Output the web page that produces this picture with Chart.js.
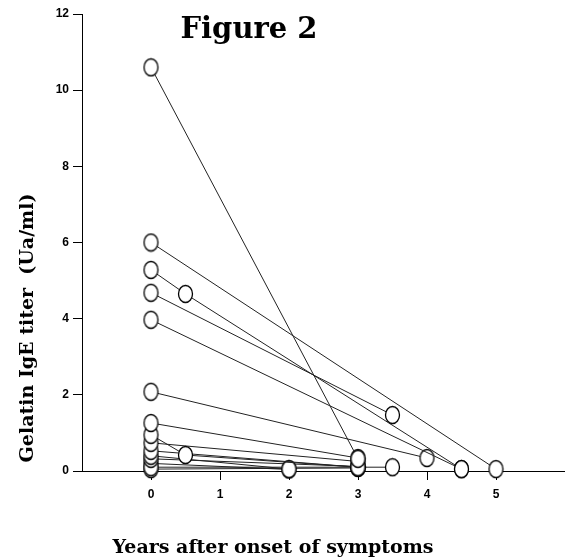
<!DOCTYPE html>
<html>
<head>
<meta charset="utf-8">
<script src="https://cdn.jsdelivr.net/npm/chart.js@4/dist/chart.umd.min.js"></script>
<style>
  html, body { margin: 0; padding: 0; background: #fff; }
  #wrap { width: 565px; height: 560px; }
</style>
</head>
<body>
<div id="wrap"><canvas id="c" width="565" height="560"></canvas></div>
<script>
// ---- data (years after onset, gelatin IgE titer Ua/ml) ----
const xTicks = [0, 1, 2, 3, 4, 5];
const yTicks = [0, 2, 4, 6, 8, 10, 12];

const p01Years = [0, 3];        const p01Titer = [10.6, 0.32];
const p02Years = [0, 5];        const p02Titer = [6.0, 0.05];
const p03Years = [0, 0.5, 4.5]; const p03Titer = [5.28, 4.65, 0.05];
const p04Years = [0, 3.5];      const p04Titer = [4.68, 1.47];
const p05Years = [0, 4.5];      const p05Titer = [3.97, 0.05];
const p06Years = [0, 4];        const p06Titer = [2.08, 0.34];
const p07Years = [0, 3];        const p07Titer = [1.26, 0.34];
const p08Years = [0, 0.5, 3];   const p08Titer = [0.95, 0.42, 0.10];
const p09Years = [0, 3];        const p09Titer = [0.74, 0.25];
const p10Years = [0, 3];        const p10Titer = [0.53, 0.10];
const p11Years = [0, 2];        const p11Titer = [0.40, 0.05];
const p12Years = [0, 3];        const p12Titer = [0.32, 0.12];
const p13Years = [0, 3, 3.5];   const p13Titer = [0.10, 0.10, 0.10];
const p14Years = [0, 2];        const p14Titer = [0.20, 0.04];
const p15Years = [0, 3];        const p15Titer = [0.05, 0.08];

const seriesList = [
  [p01Years, p01Titer], [p02Years, p02Titer], [p03Years, p03Titer],
  [p04Years, p04Titer], [p05Years, p05Titer], [p06Years, p06Titer],
  [p07Years, p07Titer], [p08Years, p08Titer], [p09Years, p09Titer],
  [p10Years, p10Titer], [p11Years, p11Titer], [p12Years, p12Titer],
  [p13Years, p13Titer], [p14Years, p14Titer], [p15Years, p15Titer]
];

// ---- elliptical open marker ----
const marker = document.createElement('canvas');
marker.width = 17; marker.height = 20;
(function () {
  const m = marker.getContext('2d');
  m.beginPath();
  m.ellipse(8.5, 10, 7, 8.5, 0, 0, Math.PI * 2);
  m.fillStyle = '#fff';
  m.fill();
  m.lineWidth = 1.3;
  m.strokeStyle = '#000';
  m.stroke();
})();

const datasets = seriesList.map(([xs, ys]) => ({
  data: xs.map((x, i) => ({ x: x, y: ys[i] })),
  borderColor: '#222',
  borderWidth: 1,
  pointStyle: marker,
  pointRadius: 8,
  pointHoverRadius: 8,
  showLine: true,
  fill: false,
  tension: 0,
  clip: false
}));

const textPlugin = {
  id: 'texts',
  afterDraw(chart) {
    const ctx = chart.ctx;
    ctx.save();
    ctx.fillStyle = '#000';
    ctx.textAlign = 'center';
    ctx.textBaseline = 'alphabetic';
    ctx.font = 'bold 29px "DejaVu Serif"';
    ctx.fillText('Figure 2', 249, 38);
    ctx.font = 'bold 19px "DejaVu Serif"';
    ctx.fillText('Years after onset of symptoms', 273, 553);
    ctx.translate(33, 328);
    ctx.rotate(-Math.PI / 2);
    ctx.font = 'bold 19px "DejaVu Serif"';
    ctx.fillText('Gelatin IgE titer  (Ua/ml)', 0, 0);
    ctx.restore();
  }
};

const tickFont = { family: '"Liberation Sans", Arial, sans-serif', size: 12, weight: 'bold' };

new Chart(document.getElementById('c'), {
  type: 'scatter',
  data: { datasets },
  options: {
    responsive: false,
    animation: false,
    layout: { autoPadding: false, padding: { top: 14, right: 0, left: 0, bottom: 0 } },
    plugins: { legend: { display: false }, tooltip: { enabled: false }, title: { display: false } },
    scales: {
      x: {
        type: 'linear',
        min: -1, max: 6,
        afterBuildTicks: (s) => { s.ticks = xTicks.map(v => ({ value: v })); },
        afterFit: (s) => { s.height = 89; s.paddingLeft = 0; s.paddingRight = 0; },
        grid: { drawOnChartArea: false, drawTicks: true, tickLength: 9, color: '#000', lineWidth: 1 },
        border: { display: true, color: '#000', width: 1 },
        ticks: { color: '#000', font: tickFont, padding: 7, maxRotation: 0 }
      },
      y: {
        type: 'linear',
        min: 0, max: 12,
        afterBuildTicks: (s) => { s.ticks = yTicks.map(v => ({ value: v })); },
        afterFit: (s) => { s.width = 82; s.paddingTop = 0; s.paddingBottom = 0; },
        grid: { drawOnChartArea: false, drawTicks: true, tickLength: 9, color: '#000', lineWidth: 1 },
        border: { display: true, color: '#000', width: 1 },
        ticks: { color: '#000', font: tickFont, padding: 4 }
      }
    }
  },
  plugins: [textPlugin]
});
</script>
</body>
</html>
